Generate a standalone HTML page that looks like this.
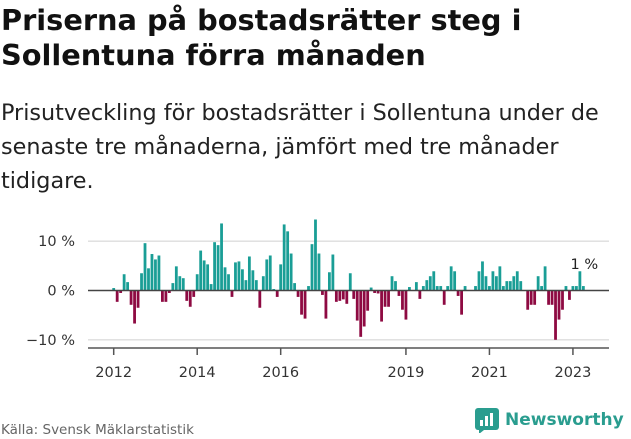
<!DOCTYPE html>
<html><head><meta charset="utf-8"><style>
body{margin:0;width:631px;height:439px;background:#fff;font-family:"DejaVu Sans","Liberation Sans",sans-serif;color:#111;overflow:hidden;position:relative}
h1{position:absolute;left:1px;top:3px;margin:0;font-size:28.8px;line-height:35px;font-weight:bold;white-space:nowrap}
p.sub{position:absolute;left:1px;top:96px;margin:0;font-size:22.3px;line-height:34px;white-space:nowrap;color:#222}
.src{position:absolute;left:1px;top:422px;font-size:13.5px;color:#666}
.logo{position:absolute;left:474px;top:407px;display:flex;align-items:center;gap:5px;color:#2a9d8f;font-weight:bold;font-size:17px}
</style></head><body>
<h1>Priserna på bostadsrätter steg i<br>Sollentuna förra månaden</h1>
<p class="sub">Prisutveckling för bostadsrätter i Sollentuna under de<br>senaste tre månaderna, jämfört med tre månader<br>tidigare.</p>
<svg id="chart" width="631" height="439" style="position:absolute;left:0;top:0"></svg>
<div class="src">Källa: Svensk Mäklarstatistik</div>
<div class="logo">
<svg width="26" height="26" viewBox="0 0 26 26"><rect x="1" y="1" width="24" height="22" rx="3" fill="#2a9d8f"/><path d="M5 23 L5 27 L10 23Z" fill="#2a9d8f"/><rect x="6" y="13" width="3" height="6" fill="#fff"/><rect x="11" y="9" width="3" height="10" fill="#fff"/><rect x="16" y="6" width="3" height="13" fill="#fff"/></svg>
<span>Newsworthy</span></div>
<script>
const startYear = 2012;
const values = [0.5,-2.3,-0.5,3.3,1.7,-2.9,-6.7,-3.5,3.5,9.6,4.5,7.4,
6.3,7.1,-2.3,-2.3,-0.5,1.5,4.9,2.9,2.5,-2.1,-3.3,-1.3,
3.3,8.1,6.1,5.3,1.3,9.8,9.2,13.6,4.7,3.3,-1.3,5.7,
5.9,4.3,2.1,6.9,4.1,2.1,-3.5,2.9,6.3,7.1,0.3,-1.3,
5.3,13.4,12.0,7.5,1.5,-1.3,-4.9,-5.7,0.9,9.4,14.4,7.5,
-0.9,-5.7,3.7,7.3,-2.3,-2.1,-1.8,-2.7,3.5,-1.7,-6.1,-9.4,
-7.3,-4.1,0.6,-0.5,-0.6,-6.3,-3.3,-3.3,2.9,1.9,-1.1,-3.9,
-5.9,0.7,0,1.7,-1.7,0.9,2.1,2.9,3.9,0.9,0.9,-2.9,
0.9,4.9,3.9,-1.1,-4.9,0.9,0,0,0.9,3.9,5.9,2.9,
0.9,3.9,2.9,4.9,0.9,1.9,1.9,2.9,3.9,1.9,0,-3.9,
-2.9,-2.9,2.9,0.9,4.9,-2.9,-2.9,-10.0,-5.9,-3.9,0.9,-1.9,
0.9,0.9,3.9,0.9];
const yTicks = [10,0,-10];
const yTickLabels = ["10 %","0 %","\u221210 %"];
const xTickYears = [2012,2014,2016,2019,2021,2023];
const lastLabel = "1 %";

const NS="http://www.w3.org/2000/svg", svg=document.getElementById('chart');
const x0=113.7, step=3.479, y0=290.5, ppu=4.93;
const x=i=>x0+i*step, y=v=>y0-v*ppu;
function mk(t,a){const e=document.createElementNS(NS,t);for(const k in a)e.setAttribute(k,a[k]);svg.appendChild(e);return e;}
yTicks.forEach((t,k)=>{
  if(t!==0){const g=mk('line',{x1:88,x2:609,y1:y(t),y2:y(t),stroke:'#ddd','stroke-width':1.3});
  
  }
  const l=mk('text',{x:75,y:y(t)+5,'text-anchor':'end','font-size':14.5,fill:'#333'});
  l.textContent=yTickLabels[k];
  
  
});
values.forEach((v,i)=>{
  const r=mk('rect',{x:x(i)-1.4,width:2.8,y:Math.min(y(v),y0),height:Math.abs(y(v)-y0),fill:v>=0?'#1a9e96':'#8e0a42'});
  
  
});
const z=mk('line',{x1:88,x2:609,y1:y0,y2:y0,stroke:'#444','stroke-width':1.5});


const ax=mk('line',{x1:88,x2:609,y1:348,y2:348,stroke:'#555','stroke-width':1.5});


xTickYears.forEach(yr=>{
  const xi=x((yr-startYear)*12);
  const t=mk('line',{x1:xi,x2:xi,y1:348,y2:355,stroke:'#555','stroke-width':1.5});
  
  
  const l=mk('text',{x:xi,y:377,'text-anchor':'middle','font-size':14.5,fill:'#333'});
  l.textContent=yr;
  
  
});
const li=values.length-1;
const lb=mk('text',{x:x(li)+1,y:y(values[li])-17,'text-anchor':'middle','font-size':14.5,fill:'#222'});
lb.textContent=lastLabel;


</script>
</body></html>
